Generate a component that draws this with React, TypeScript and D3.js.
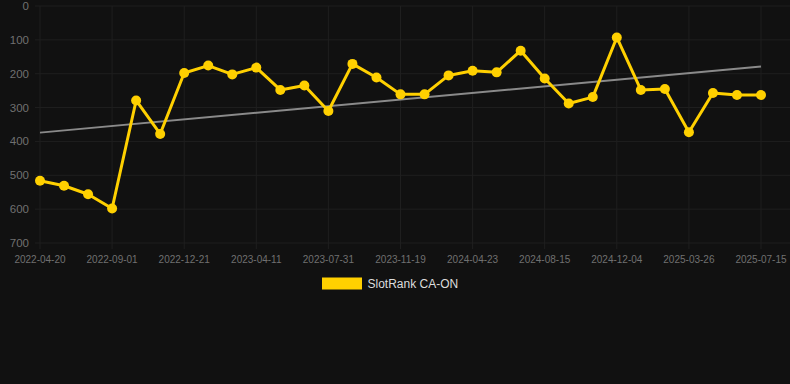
import React from "react";
import * as d3 from "d3";

const tickLabels = [
  "2022-04-20", "2022-09-01", "2022-12-21", "2023-04-11", "2023-07-31",
  "2023-11-19", "2024-04-23", "2024-08-15", "2024-12-04", "2025-03-26", "2025-07-15",
];
const rankValues = [
  516, 531, 556, 598, 279, 378, 198, 176, 202, 182, 248, 235, 310, 171, 211,
  261, 261, 205, 191, 196, 132, 214, 288, 269, 93, 248, 245, 373, 257, 263, 263,
];
const trendValues = [374, 179];
const yTicks = [0, 100, 200, 300, 400, 500, 600, 700];
const seriesName = "SlotRank CA-ON";

export default function App() {
  const W = 790, H = 384;
  const idx = rankValues.map((_, i) => i);
  const x = d3.scaleLinear().domain([0, rankValues.length - 1]).range([40, 761]);
  const y = d3.scaleLinear().domain([0, 700]).range([6, 243]);
  const line = d3.line<number>().x((_, i) => x(i)).y((d) => y(d));
  const tickStep = 3;
  const gridColor = "#1f1f1f";
  const font = "'Liberation Sans', Arial, sans-serif";
  return (
    <svg width={W} height={H} style={{ position: "absolute", left: 0, top: 0, background: "#111111" }}>
      <rect x={0} y={0} width={W} height={H} fill="#111111" />
      {yTicks.map((t) => (
        <g key={t}>
          <line x1={35} x2={W} y1={y(t)} y2={y(t)} stroke={gridColor} strokeWidth={1} />
          <text x={29} y={y(t)} dy="0.35em" textAnchor="end" fill="#707070" fontSize={11.5} fontFamily={font}>{t}</text>
        </g>
      ))}
      {tickLabels.map((lab, k) => {
        const xi = x(k * tickStep);
        return (
          <g key={lab}>
            <line x1={xi} x2={xi} y1={y(0)} y2={y(700) + 6} stroke={gridColor} strokeWidth={1} />
            <text x={xi} y={259} dy="0.35em" textAnchor="middle" fill="#707070" fontSize={10} fontFamily={font}>{lab}</text>
          </g>
        );
      })}
      <line x1={x(0)} x2={x(rankValues.length - 1)} y1={y(trendValues[0])} y2={y(trendValues[1])} stroke="#8a8a8a" strokeWidth={2} />
      <path d={line(rankValues) || ""} fill="none" stroke="#FFD000" strokeWidth={3} strokeLinejoin="round" />
      {idx.map((i) => (
        <circle key={i} cx={x(i)} cy={y(rankValues[i])} r={5} fill="#FFD000" />
      ))}
      <rect x={322} y={277.5} width={40} height={12} fill="#FFD000" />
      <text x={367.5} y={284} dy="0.35em" fill="#dddddd" fontSize={12} fontFamily={font}>{seriesName}</text>
    </svg>
  );
}
